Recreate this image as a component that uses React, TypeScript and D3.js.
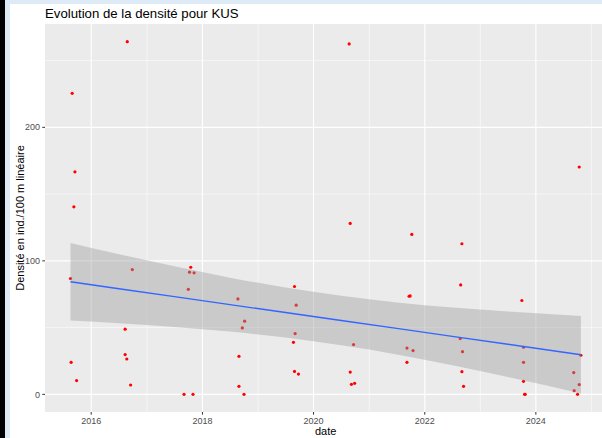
import React, { useEffect, useRef } from "react";
import * as d3 from "d3";

// observations (date, density)
const obsDates = [
  "2015-08-18", "2015-08-22", "2015-08-29", "2015-09-09", "2015-09-16", "2015-09-27",
  "2016-08-11", "2016-08-11", "2016-08-22", "2016-08-25", "2016-09-16", "2016-09-27",
  "2017-09-02", "2017-09-30", "2017-10-08", "2017-10-16", "2017-10-31", "2017-11-07",
  "2018-08-22", "2018-08-29", "2018-08-29", "2018-09-20", "2018-10-01", "2018-10-05",
  "2019-08-22", "2019-08-29", "2019-08-29", "2019-09-02", "2019-09-09", "2019-09-24",
  "2020-08-22", "2020-08-29", "2020-08-29", "2020-09-06", "2020-09-20", "2020-09-27",
  "2021-09-06", "2021-09-06", "2021-09-20", "2021-09-27", "2021-10-08", "2021-10-16",
  "2022-08-22", "2022-08-25", "2022-09-02", "2022-09-02", "2022-09-06", "2022-09-13",
  "2023-10-01", "2023-10-12", "2023-10-12", "2023-10-12", "2023-10-19", "2023-10-23",
  "2024-09-06", "2024-09-09", "2024-10-01", "2024-10-12", "2024-10-12", "2024-10-23",
];
const obsValues = [
  86.8, 24, 225.5, 140.5, 166.7, 10.3,
  48.8, 29.8, 26.5, 264.2, 7, 93.5,
  0, 78.7, 91.5, 95.2, 0, 91,
  71.5, 28.5, 6, 49.8, 0, 54.8,
  39, 17.2, 80.8, 45.5, 66.8, 15.2,
  262.5, 16.7, 128, 7.5, 37.3, 8.3,
  34.7, 24, 73.5, 73.7, 119.8, 32.8,
  41.8, 82, 112.8, 17, 32, 6,
  70.3, 35.3, 24, 9.8, 0, 0,
  16.3, 2.8, 0, 7.3, 170.3, 29.3,
];

// linear smooth (lm) with confidence band
const smoothDates = [
  "2015-08-18", "2016-07-01", "2017-07-01", "2018-07-01", "2019-07-01",
  "2020-07-01", "2021-07-01", "2022-07-01", "2023-07-01", "2024-10-23",
];
const smoothFit = [84.3, 79.1, 73.2, 67.2, 61.3, 55.3, 49.4, 43.4, 37.5, 29.7];
const smoothHi = [113.3, 104.9, 95.9, 87.4, 80.1, 73.9, 68.9, 65.0, 62.0, 58.7];
const smoothLo = [55.3, 53.3, 50.5, 47.0, 42.5, 36.7, 29.9, 21.8, 13.0, 0.7];

const yTicks = [0, 100, 200];
const yMinor = [50, 150, 250];
const xTickYears = [2016, 2018, 2020, 2022, 2024];
const xMinorYears = [2015, 2017, 2019, 2021, 2023, 2025];

const title = "Evolution de la densité pour KUS";
const xTitle = "date";
const yTitle = "Densité en ind./100 m linéaire";

export default function App() {
  const svgRef = useRef<SVGSVGElement>(null);
  const width = 602;
  const height = 438;

  useEffect(() => {
    const svg = d3.select(svgRef.current);
    svg.selectAll("*").remove();

    const font = "'Liberation Sans', Arial, sans-serif";
    const parse = d3.timeParse("%Y-%m-%d");
    const pts = obsDates.map((d, i) => ({ date: parse(d) as Date, value: obsValues[i] }));
    const band = smoothDates.map((d, i) => ({
      date: parse(d) as Date,
      fit: smoothFit[i],
      hi: smoothHi[i],
      lo: smoothLo[i],
    }));

    // window frame
    svg.append("rect").attr("width", width).attr("height", height).attr("fill", "#ffffff");
    svg.append("rect").attr("x", 0).attr("width", 5).attr("height", height).attr("fill", "#000000");
    svg.append("rect").attr("x", 5).attr("width", 5).attr("height", height).attr("fill", "#deeaf6");
    svg.append("rect").attr("x", 5).attr("width", width - 5).attr("height", 4).attr("fill", "#deeaf6");

    const panel = { left: 45, top: 24, bottom: 412 };

    // ggplot style 5% expansion
    const [dMin, dMax] = d3.extent(pts, (d) => +d.date) as [number, number];
    const xPad = (dMax - dMin) * 0.05;
    const xDom = [new Date(dMin - xPad), new Date(dMax + xPad)];
    const pxPerMs = 55.58 / (365.25 * 24 * 3600 * 1000);
    const panelRight = panel.left + (+xDom[1] - +xDom[0]) * pxPerMs;

    const x = d3.scaleTime().domain(xDom).range([panel.left, panelRight]);

    const vMax = d3.max(pts, (d) => d.value) as number;
    const vMin = 0;
    const yPad = (vMax - vMin) * 0.05;
    const y = d3
      .scaleLinear()
      .domain([vMin - yPad, vMax + yPad])
      .range([panel.bottom, panel.top]);

    const g = svg.append("g");

    g.append("rect")
      .attr("x", panel.left)
      .attr("y", panel.top)
      .attr("width", panelRight - panel.left)
      .attr("height", panel.bottom - panel.top)
      .attr("fill", "#EBEBEB");

    const yearDate = (yr: number) => new Date(yr, 0, 1);

    // minor grid
    g.selectAll(".ymin")
      .data(yMinor)
      .join("line")
      .attr("x1", panel.left)
      .attr("x2", panelRight)
      .attr("y1", (d) => y(d))
      .attr("y2", (d) => y(d))
      .attr("stroke", "#ffffff")
      .attr("stroke-width", 0.55);
    g.selectAll(".xmin")
      .data(xMinorYears)
      .join("line")
      .attr("x1", (d) => x(yearDate(d)))
      .attr("x2", (d) => x(yearDate(d)))
      .attr("y1", panel.top)
      .attr("y2", panel.bottom)
      .attr("stroke", "#ffffff")
      .attr("stroke-width", 0.55);

    // major grid
    g.selectAll(".ymaj")
      .data(yTicks)
      .join("line")
      .attr("x1", panel.left)
      .attr("x2", panelRight)
      .attr("y1", (d) => y(d))
      .attr("y2", (d) => y(d))
      .attr("stroke", "#ffffff")
      .attr("stroke-width", 1.1);
    g.selectAll(".xmaj")
      .data(xTickYears)
      .join("line")
      .attr("x1", (d) => x(yearDate(d)))
      .attr("x2", (d) => x(yearDate(d)))
      .attr("y1", panel.top)
      .attr("y2", panel.bottom)
      .attr("stroke", "#ffffff")
      .attr("stroke-width", 1.1);

    // points
    g.selectAll(".pt")
      .data(pts)
      .join("circle")
      .attr("cx", (d) => x(d.date))
      .attr("cy", (d) => y(d.value))
      .attr("r", 1.6)
      .attr("fill", "#FF0000");

    // confidence band + fit
    const area = d3
      .area<any>()
      .x((d) => x(d.date))
      .y0((d) => y(d.lo))
      .y1((d) => y(d.hi))
      .curve(d3.curveMonotoneX);
    g.append("path")
      .datum(band)
      .attr("d", area)
      .attr("fill", "#999999")
      .attr("fill-opacity", 0.4);

    const line = d3
      .line<any>()
      .x((d) => x(d.date))
      .y((d) => y(d.fit));
    g.append("path")
      .datum(band)
      .attr("d", line)
      .attr("fill", "none")
      .attr("stroke", "#3366FF")
      .attr("stroke-width", 1.4);

    // y axis
    const yAx = g.append("g");
    yAx.selectAll("line")
      .data(yTicks)
      .join("line")
      .attr("x1", panel.left - 2.7)
      .attr("x2", panel.left)
      .attr("y1", (d) => y(d))
      .attr("y2", (d) => y(d))
      .attr("stroke", "#333333")
      .attr("stroke-width", 1);
    yAx.selectAll("text")
      .data(yTicks)
      .join("text")
      .attr("x", panel.left - 5)
      .attr("y", (d) => y(d))
      .attr("dy", "0.35em")
      .attr("text-anchor", "end")
      .attr("font-family", font)
      .attr("font-size", 9)
      .attr("fill", "#4D4D4D")
      .text((d) => d);

    // x axis
    const xAx = g.append("g");
    xAx.selectAll("line")
      .data(xTickYears)
      .join("line")
      .attr("x1", (d) => x(yearDate(d)))
      .attr("x2", (d) => x(yearDate(d)))
      .attr("y1", panel.bottom)
      .attr("y2", panel.bottom + 2.7)
      .attr("stroke", "#333333")
      .attr("stroke-width", 1);
    xAx.selectAll("text")
      .data(xTickYears)
      .join("text")
      .attr("x", (d) => x(yearDate(d)))
      .attr("y", panel.bottom + 12)
      .attr("text-anchor", "middle")
      .attr("font-family", font)
      .attr("font-size", 9)
      .attr("fill", "#4D4D4D")
      .text((d) => d);

    // titles
    svg.append("text")
      .attr("x", (panel.left + panelRight) / 2)
      .attr("y", 435)
      .attr("text-anchor", "middle")
      .attr("font-family", font)
      .attr("font-size", 11)
      .attr("fill", "#000000")
      .text(xTitle);

    svg.append("text")
      .attr("transform", `translate(24,${(panel.top + panel.bottom) / 2}) rotate(-90)`)
      .attr("text-anchor", "middle")
      .attr("font-family", font)
      .attr("font-size", 11)
      .attr("fill", "#000000")
      .text(yTitle);

    svg.append("text")
      .attr("x", panel.left)
      .attr("y", 18)
      .attr("font-family", font)
      .attr("font-size", 13.2)
      .attr("fill", "#000000")
      .text(title);
  }, []);

  return (
    <svg
      ref={svgRef}
      width={width}
      height={height}
      style={{ position: "absolute", left: 0, top: 0, display: "block" }}
    />
  );
}
